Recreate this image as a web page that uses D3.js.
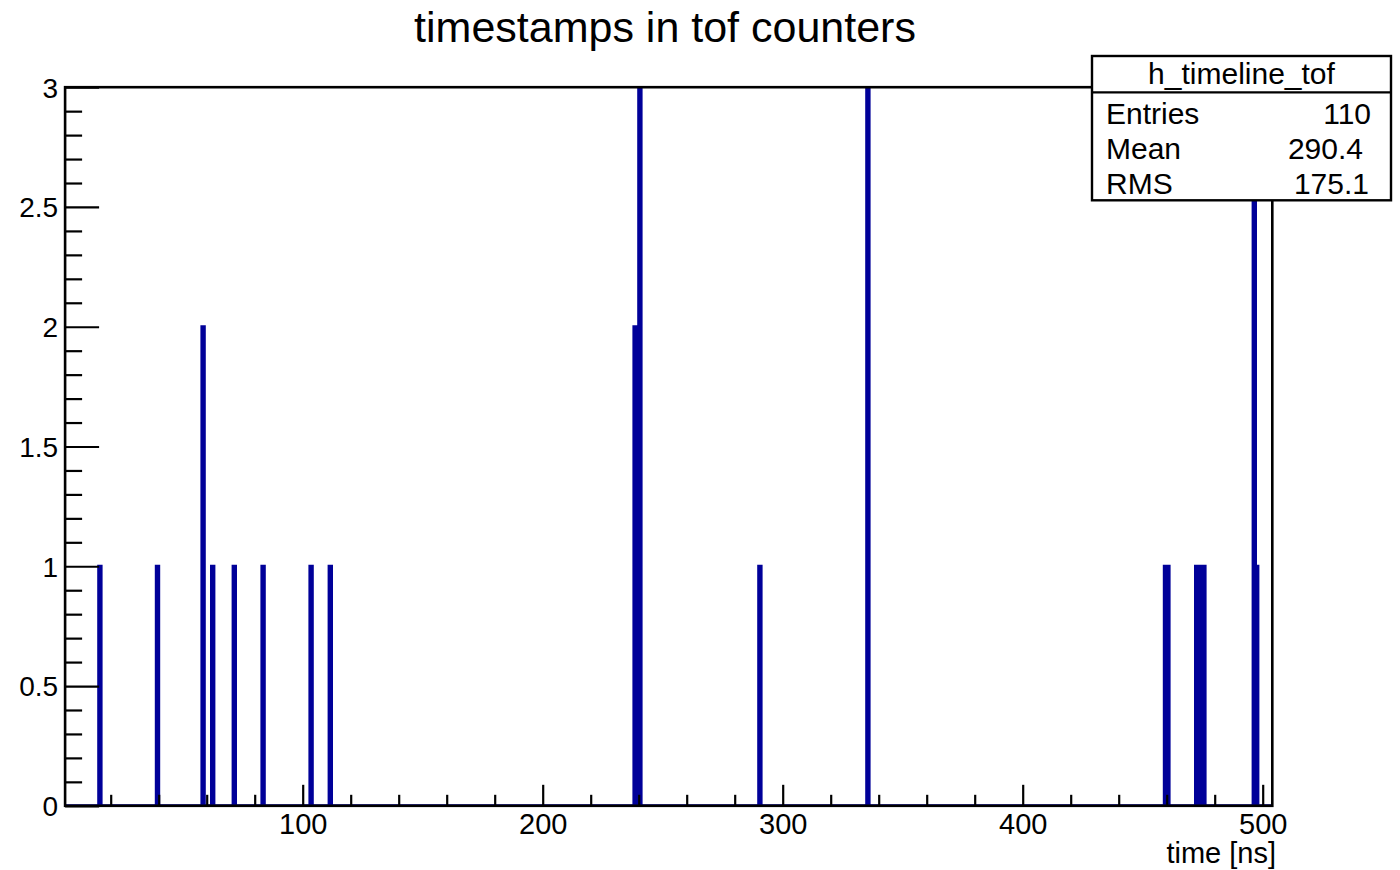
<!DOCTYPE html>
<html>
<head>
<meta charset="utf-8">
<script src="https://cdn.jsdelivr.net/npm/d3@7"></script>
<style>
  html, body { margin: 0; padding: 0; background: #fff; }
  svg { display: block; font-family: "Liberation Sans", Arial, Helvetica, sans-serif; }
</style>
</head>
<body>
<svg id="chart" width="1400" height="870"></svg>
<script>
// ---------------- data ----------------
const title = "timestamps in tof counters";
const xAxisTitle = "time [ns]";
const histName = "h_timeline_tof";
const xRange = [1, 504];          // histogram axis range (bin width 1 ns)
const yRange = [0, 3];
// left edges of the non-empty bins and their contents
const binLeftEdges = [15, 39, 58, 62, 71, 83, 103, 111, 238, 239, 240, 290, 335, 459, 460, 472, 473, 474, 475, 496, 497];
const binCounts    = [ 1,  1,  2,  1,  1,  1,   1,   1,   2,   2,   3,   1,   3,   1,   1,   1,   1,   1,   1,   3,   1];
const xTickValues = [100, 200, 300, 400, 500];
const xTickLabels = ["100", "200", "300", "400", "500"];
const yTickValues = [0, 0.5, 1, 1.5, 2, 2.5, 3];
const yTickLabels = ["0", "0.5", "1", "1.5", "2", "2.5", "3"];
const statLabels = ["Entries", "Mean", "RMS"];
const statValues = ["110", "290.4", "175.1"];

// ---------------- layout ----------------
const frame = { left: 65.1, right: 1272.3, top: 87.2, bottom: 805.8 };
const navy = "#000099";
const svg = d3.select("#chart");

const x = d3.scaleLinear().domain(xRange).range([frame.left, frame.right]);
const y = d3.scaleLinear().domain(yRange).range([frame.bottom, frame.top]);

// full bin array (empty bins = 0)
const nBins = xRange[1] - xRange[0];
const counts = new Array(nBins).fill(0);
binLeftEdges.forEach((e, i) => { counts[e - xRange[0]] = binCounts[i]; });
const pts = counts.map((c, i) => [xRange[0] + i, c]);
pts.push([xRange[1], counts[nBins - 1]]);

svg.append("clipPath").attr("id", "fclip")
  .append("rect")
  .attr("x", frame.left).attr("y", frame.top - 1)
  .attr("width", frame.right - frame.left).attr("height", frame.bottom - frame.top + 2);

const area = d3.area()
  .curve(d3.curveStepAfter)
  .x(d => x(d[0]))
  .y0(y(0))
  .y1(d => y(d[1]));

svg.append("path")
  .datum(pts)
  .attr("clip-path", "url(#fclip)")
  .attr("d", area)
  .attr("fill", navy)
  .attr("stroke", navy)
  .attr("stroke-width", 3)
  .attr("stroke-linejoin", "miter");

// ---------------- axes ----------------
const fontSize = 29;
const xMinor = d3.range(20, 501, 20).filter(v => v % 100 !== 0);
const yMinor = d3.range(0, 31).map(v => v / 10).filter(v => Math.abs(v * 2 - Math.round(v * 2)) > 1e-6);

function styleAxis(g) {
  g.select(".domain").remove();
  g.selectAll(".tick line").attr("stroke", "#000").attr("stroke-width", 2.2);
  g.selectAll(".tick text").attr("fill", "#000").attr("font-size", fontSize)
    .attr("font-family", "'Liberation Sans', Arial, sans-serif");
}

// x axis minor
svg.append("g").attr("transform", `translate(0,${frame.bottom})`)
  .call(d3.axisBottom(x).tickValues(xMinor).tickSize(-11).tickFormat(""))
  .call(styleAxis);
// x axis major
svg.append("g").attr("transform", `translate(0,${frame.bottom})`)
  .call(d3.axisBottom(x).tickValues(xTickValues).tickSize(-21).tickPadding(8)
        .tickFormat((d, i) => xTickLabels[i]))
  .call(styleAxis);

// y axis minor
svg.append("g").attr("transform", `translate(${frame.left},0)`)
  .call(d3.axisLeft(y).tickValues(yMinor).tickSize(-17).tickFormat(""))
  .call(styleAxis);
// y axis major
svg.append("g").attr("transform", `translate(${frame.left},0)`)
  .call(d3.axisLeft(y).tickValues(yTickValues).tickSize(-34).tickPadding(7)
        .tickFormat((d, i) => yTickLabels[i]))
  .call(styleAxis)
  .call(g => g.selectAll(".tick text").attr("font-size", 28).attr("dy", "0.35em"));

// frame
svg.append("rect")
  .attr("x", frame.left).attr("y", frame.top)
  .attr("width", frame.right - frame.left).attr("height", frame.bottom - frame.top)
  .attr("fill", "none").attr("stroke", "#000").attr("stroke-width", 2.6);

// x axis title
svg.append("text")
  .attr("x", 1276).attr("y", 863)
  .attr("text-anchor", "end")
  .attr("font-size", fontSize)
  .text(xAxisTitle);

// title
svg.append("text")
  .attr("x", 665).attr("y", 42)
  .attr("text-anchor", "middle")
  .attr("font-size", 43)
  .text(title);

// ---------------- stats box ----------------
const box = { x: 1092, y: 56, w: 299, h: 144.3, sep: 92.3 };
const sb = svg.append("g");
sb.append("rect")
  .attr("x", box.x).attr("y", box.y).attr("width", box.w).attr("height", box.h)
  .attr("fill", "#fff").attr("stroke", "#000").attr("stroke-width", 2.4);
sb.append("line")
  .attr("x1", box.x).attr("x2", box.x + box.w)
  .attr("y1", box.sep).attr("y2", box.sep)
  .attr("stroke", "#000").attr("stroke-width", 2.2);
sb.append("text")
  .attr("x", box.x + box.w / 2).attr("y", 83.5)
  .attr("text-anchor", "middle").attr("font-size", 30)
  .text(histName);
const rowBase = [124, 159, 194.3];
const valRight = [1371, 1363, 1369];
sb.selectAll("text.lab").data(statLabels).join("text")
  .attr("class", "lab")
  .attr("x", 1106).attr("y", (d, i) => rowBase[i])
  .attr("font-size", 30)
  .text(d => d);
sb.selectAll("text.val").data(statValues).join("text")
  .attr("class", "val")
  .attr("x", (d, i) => valRight[i]).attr("y", (d, i) => rowBase[i])
  .attr("text-anchor", "end")
  .attr("font-size", 30)
  .text(d => d);
</script>
</body>
</html>
